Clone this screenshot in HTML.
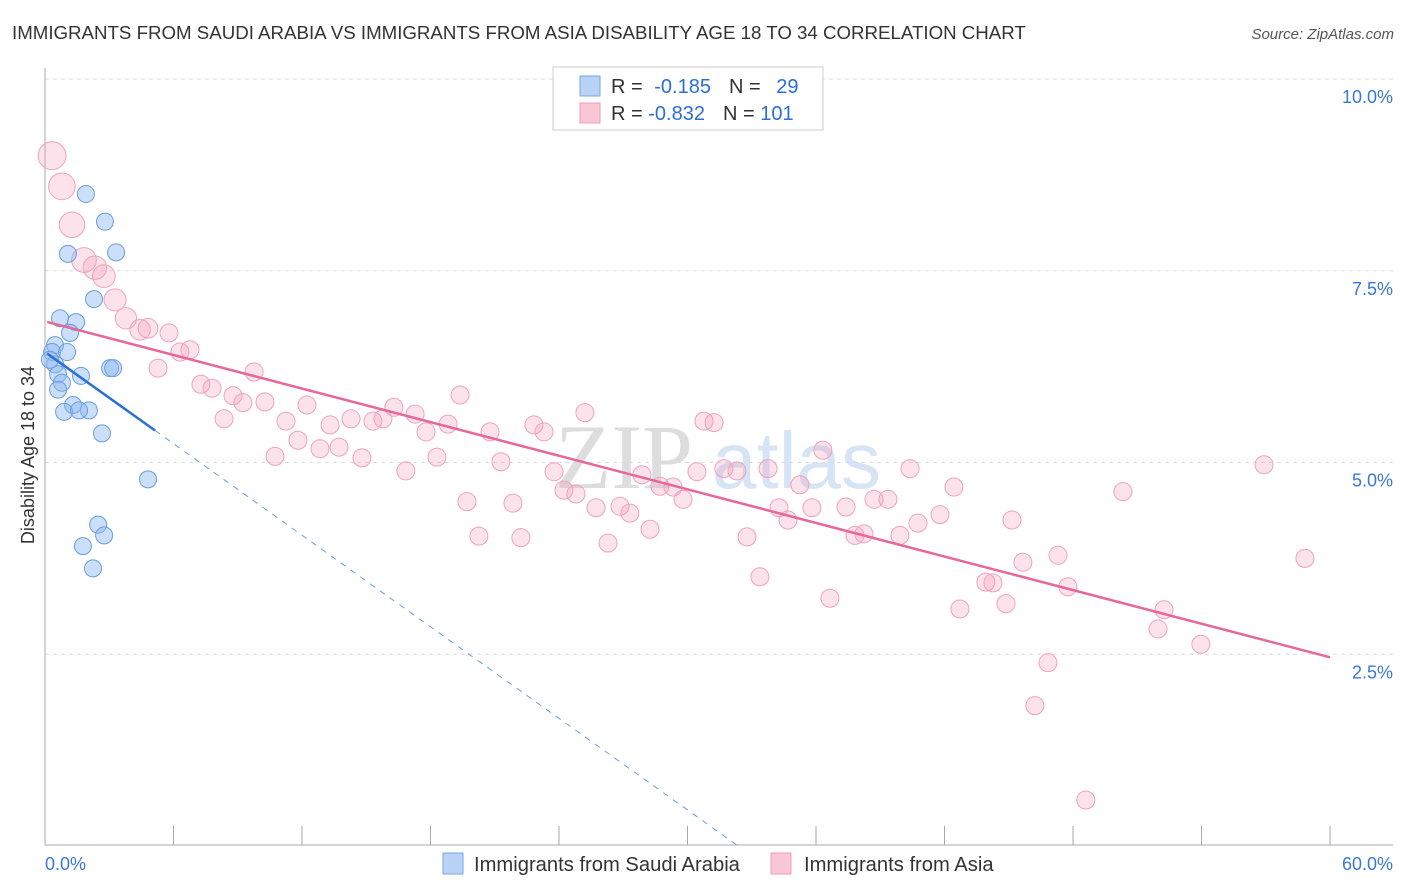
<!DOCTYPE html>
<html><head><meta charset="utf-8">
<style>
body{margin:0;background:#fff;font-family:"Liberation Sans",sans-serif;}
svg{display:block}
</style></head>
<body>
<svg id="chart" width="1406" height="892" viewBox="0 0 1406 892">
<text x="12" y="39" font-size="18.7" fill="#333">IMMIGRANTS FROM SAUDI ARABIA VS IMMIGRANTS FROM ASIA DISABILITY AGE 18 TO 34 CORRELATION CHART</text>
<text x="1394" y="39" font-size="15" fill="#555" font-style="italic" text-anchor="end">Source: ZipAtlas.com</text>
<g>
<text x="555" y="488" font-size="92" fill="#ddd" font-family="Liberation Serif,serif">ZIP</text>
<text x="712" y="488" font-size="80" fill="#d6e4f5">atlas</text>
</g>
<g id="grid"></g>
<g id="axes"></g>
<g id="marks"></g>
<text transform="translate(34,455) rotate(-90)" font-size="18" fill="#333" text-anchor="middle">Disability Age 18 to 34</text>
<g>
<rect x="553" y="67" width="270" height="63" fill="#fff" stroke="#ccc"/>
<rect x="580" y="76" width="20" height="20" fill="#b8d3f5" stroke="#7aa7e0"/>
<rect x="580" y="103" width="20" height="20" fill="#f9c6d6" stroke="#ee9cb8"/>
<text x="611" y="93" font-size="20" fill="#333">R = <tspan fill="#2a6fd6" dx="6">-0.185</tspan><tspan dx="18">N = </tspan><tspan fill="#2a6fd6" dx="10">29</tspan></text>
<text x="611" y="120" font-size="20" fill="#333">R = <tspan fill="#2a6fd6">-0.832</tspan><tspan dx="18">N = </tspan><tspan fill="#2a6fd6">101</tspan></text>
</g>
<g>
<rect x="443" y="853" width="20" height="21" fill="#b8d3f5" stroke="#7aa7e0"/>
<text x="474" y="871" font-size="20.2" fill="#333">Immigrants from Saudi Arabia</text>
<rect x="771" y="853" width="20" height="21" fill="#f9c6d6" stroke="#ee9cb8"/>
<text x="804" y="871" font-size="20.2" fill="#333">Immigrants from Asia</text>
</g>
</svg>
<script>
const xTickLabels=["0.0%","60.0%"];
const yTicks=[2.5,5,7.5,10];
const yTickLabels=["2.5%","5.0%","7.5%","10.0%"];
const blueX=[1.91,2.80,1.07,3.32,2.29,0.70,1.45,1.17,0.47,0.33,1.03,0.47,0.61,1.68,3.04,3.18,0.79,0.61,1.31,0.89,2.05,1.59,2.66,4.81,2.48,2.76,1.77,2.24,0.23];
const blueY=[8.50,8.14,7.72,7.74,7.13,6.88,6.83,6.69,6.53,6.44,6.44,6.28,6.15,6.13,6.23,6.23,6.04,5.95,5.75,5.66,5.68,5.68,5.38,4.78,4.19,4.05,3.91,3.62,6.34];
const pinkX=[0.33,0.79,1.26,1.82,2.33,2.75,3.27,3.78,4.44,4.81,5.79,6.30,6.77,5.28,7.28,7.80,9.24,8.78,8.36,10.27,9.76,11.25,10.74,11.81,12.23,12.84,13.31,13.73,14.29,14.80,15.31,15.78,16.29,16.85,17.28,17.79,18.30,18.82,19.38,19.70,20.26,20.78,21.29,21.85,22.22,22.83,23.30,23.77,24.23,24.79,25.21,25.73,26.29,26.85,27.31,27.87,28.25,28.71,29.32,29.79,30.44,30.77,31.24,31.70,32.31,32.78,33.38,33.76,34.27,34.69,35.25,35.81,36.32,36.65,37.40,37.82,38.24,38.71,39.36,39.92,40.39,40.76,41.79,42.44,42.72,43.93,44.26,44.87,45.15,45.66,46.22,46.83,47.30,47.76,48.60,50.33,51.97,52.25,53.97,56.92,58.83];
const pinkY=[9.00,8.60,8.10,7.64,7.54,7.43,7.12,6.88,6.73,6.75,6.69,6.44,6.47,6.23,6.02,5.97,5.78,5.87,5.57,5.79,6.18,5.54,5.08,5.29,5.75,5.18,5.49,5.20,5.57,5.06,5.54,5.57,5.72,4.89,5.63,5.40,5.07,5.50,5.88,4.49,4.04,5.40,5.01,4.47,4.02,5.49,5.40,4.88,4.64,4.59,5.65,4.41,3.95,4.43,4.34,4.84,4.13,4.69,4.68,4.52,4.88,5.54,5.52,4.92,4.89,4.03,3.51,4.92,4.41,4.25,4.71,4.41,5.16,3.23,4.42,4.05,4.07,4.52,4.52,4.05,4.92,4.21,4.32,4.68,3.09,3.44,3.43,3.16,4.25,3.70,1.83,2.39,3.79,3.38,0.60,4.62,2.83,3.08,2.63,4.97,3.75];
const pinkWeight=[2.4,2.2,2,1.9,1.7,1.6,1.5,1.4,1.3,1.2];
const blueTrend=[6.44,-0.199];
const pinkTrend=[6.84,-0.073];

const NS="http://www.w3.org/2000/svg";
const X0=45,X1=1330,Y0=846,PXY=76.7;
const sx=v=>X0+(v/60)*(X1-X0);
const sy=v=>Y0-v*PXY;
function mk(tag,attrs,parent){const e=document.createElementNS(NS,tag);for(const k in attrs)e.setAttribute(k,attrs[k]);parent.appendChild(e);return e;}
const grid=document.getElementById('grid'),axes=document.getElementById('axes'),marks=document.getElementById('marks');
yTicks.forEach((t,i)=>{
  const l=mk('line',{x1:X0,x2:1393,y1:sy(t),y2:sy(t),stroke:'#ddd','stroke-dasharray':'4,4'},grid);
  
  
  const tx=mk('text',{x:1393,y:sy(t)+24,'font-size':18,fill:'#3a78d8','text-anchor':'end'},axes);
  tx.textContent=yTickLabels[i];
  
  
});
let a=mk('line',{x1:X0,x2:X0,y1:68,y2:845,stroke:'#aaa'},axes);


a=mk('line',{x1:X0,x2:1393,y1:845,y2:845,stroke:'#aaa'},axes);


for(let k=1;k<=10;k++){
  const tk=mk('line',{x1:sx(k*6),x2:sx(k*6),y1:826,y2:845,stroke:'#aaa'},axes);
  
  
}
[[0,'start',45],[60,'end',1393]].forEach((p,i)=>{
  const tx=mk('text',{x:p[2],y:870,'font-size':18,fill:'#3a78d8','text-anchor':p[1]},axes);
  tx.textContent=xTickLabels[i];
  
  
});
pinkX.forEach((x,i)=>{
  const r=9*(pinkWeight[i]?Math.sqrt(pinkWeight[i]):1);
  const c=mk('circle',{cx:sx(x),cy:sy(pinkY[i]),r:r,fill:'rgba(244,160,188,0.3)',stroke:'#eea3bd','stroke-width':1},marks);
  
  
});
blueX.forEach((x,i)=>{
  const c=mk('circle',{cx:sx(x),cy:sy(blueY[i]),r:8.5,fill:'rgba(140,185,240,0.45)',stroke:'#6a9ee0','stroke-width':1},marks);
  
  
});
const bEnd=5.14, bZero=-blueTrend[0]/blueTrend[1];
let ln=mk('line',{x1:sx(bEnd),y1:sy(blueTrend[0]+blueTrend[1]*bEnd),x2:sx(bZero),y2:sy(0),stroke:'#6a9ee0','stroke-width':1,'stroke-dasharray':'6,6'},marks);


ln=mk('line',{x1:sx(0.1),y1:sy(blueTrend[0]+blueTrend[1]*0.1),x2:sx(bEnd),y2:sy(blueTrend[0]+blueTrend[1]*bEnd),stroke:'#2a6fd6','stroke-width':2.5},marks);


ln=mk('line',{x1:sx(0.1),y1:sy(pinkTrend[0]+pinkTrend[1]*0.1),x2:sx(60),y2:sy(pinkTrend[0]+pinkTrend[1]*60),stroke:'#e8679a','stroke-width':2.5},marks);


</script>
</body></html>
